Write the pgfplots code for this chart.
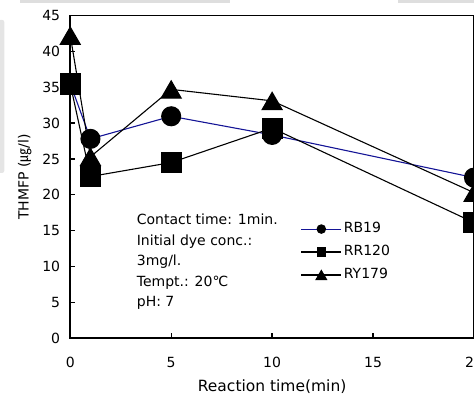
\documentclass[border=0pt]{standalone}
\usepackage{fontspec}
\setmainfont{DejaVu Sans}
\newfontfamily\cjk{Noto Sans CJK KR}
\usepackage{pgfplots}
\pgfplotsset{compat=1.18}
\definecolor{rbblue}{RGB}{20,20,150}
\begin{document}
\begin{tikzpicture}[font=\fontsize{14}{17}\selectfont]
\fill[black!13] (-50.3pt,335.5pt) rectangle (159.7pt,338.5pt);
\fill[black!13] (327.7pt,335.5pt) rectangle (404pt,338.5pt);
\fill[black!10, rounded corners=2pt] (-72pt,165.5pt) rectangle (-66pt,318.5pt);
\begin{axis}[
  scale only axis, width=404pt, height=323pt,
  xmin=0, xmax=20, ymin=0, ymax=45,
  xtick={0,5,10,15,20}, ytick={0,5,...,45},
  tick align=inside, xtick pos=bottom, ytick pos=left,
  major tick length=5pt,
  every tick/.style={black, line width=1.3pt},
  axis line style={line width=1.6pt},
  /pgf/number format/assume math mode=true,
  xticklabel style={anchor=center, inner sep=0pt, yshift=-24pt},
  yticklabel style={anchor=east, inner sep=0pt, xshift=-10pt},
  xlabel={Reaction time(min)},
  xlabel style={at={(axis description cs:0.5,-0.149)}, anchor=center, inner sep=0pt, font=\fontsize{15.5}{18}\selectfont},
  ylabel={THMFP ({\cjk ㎍}/l)},
  ylabel style={at={(axis description cs:-0.112,0.5)}, anchor=center, inner sep=0pt},
  legend image code/.code={
    \draw[mark=none] (0pt,0pt) -- (40pt,0pt);
    \draw plot[only marks] coordinates {(20pt,0pt)};
  },
  legend cell align=left,
  legend style={at={(axis description cs:0.571,0.3585)}, anchor=north west,
    draw=none, fill=none, inner sep=0pt, outer sep=0pt, row sep=10pt, column sep=2pt,
    nodes={inner sep=0pt, text height=10pt, text depth=3pt}},
]
\addlegendimage{rbblue, line width=1.1pt, mark=*, mark size=4.2pt, mark options={black, fill=black}}
\addlegendentry{RB19}
\addlegendimage{black, line width=1.1pt, mark=square*, mark size=4.2pt, mark options={black, fill=black}}
\addlegendentry{RR120}
\addlegendimage{black, line width=1.1pt, mark=triangle*, mark size=6pt, mark options={black, fill=black, yshift=-1.5pt}}
\addlegendentry{RY179}

\addplot[forget plot, rbblue, line width=1.1pt, mark=*, mark size=9.5pt, mark options={black, fill=black}]
  coordinates {(0,35.5) (1,27.8) (5,30.95) (10,28.35) (20,22.4)};
\addplot[forget plot, black, line width=1.1pt, mark=square*, mark size=10pt, mark options={black, fill=black}]
  coordinates {(0,35.45) (1,22.55) (5,24.5) (10,29.3) (20,16.13)};
\addplot[forget plot, black, line width=1.1pt, mark=triangle*, mark size=11.5pt, mark options={black, fill=black, yshift=-3pt}]
  coordinates {(0,42.2) (1,25.3) (5,34.7) (10,33.1) (20,20.3)};

\node[anchor=north west, align=left, inner sep=0pt, font=\fontsize{14}{20.5}\selectfont]
  at (axis cs:3.29,17.35) {Contact time: 1min.\\Initial dye conc.:\\3mg/l.\\Tempt.: 20℃\\pH: 7};
\end{axis}
\pgfresetboundingbox
\path (-70.3pt,-57.5pt) rectangle (404pt,338.5pt);
\end{tikzpicture}
\end{document}
